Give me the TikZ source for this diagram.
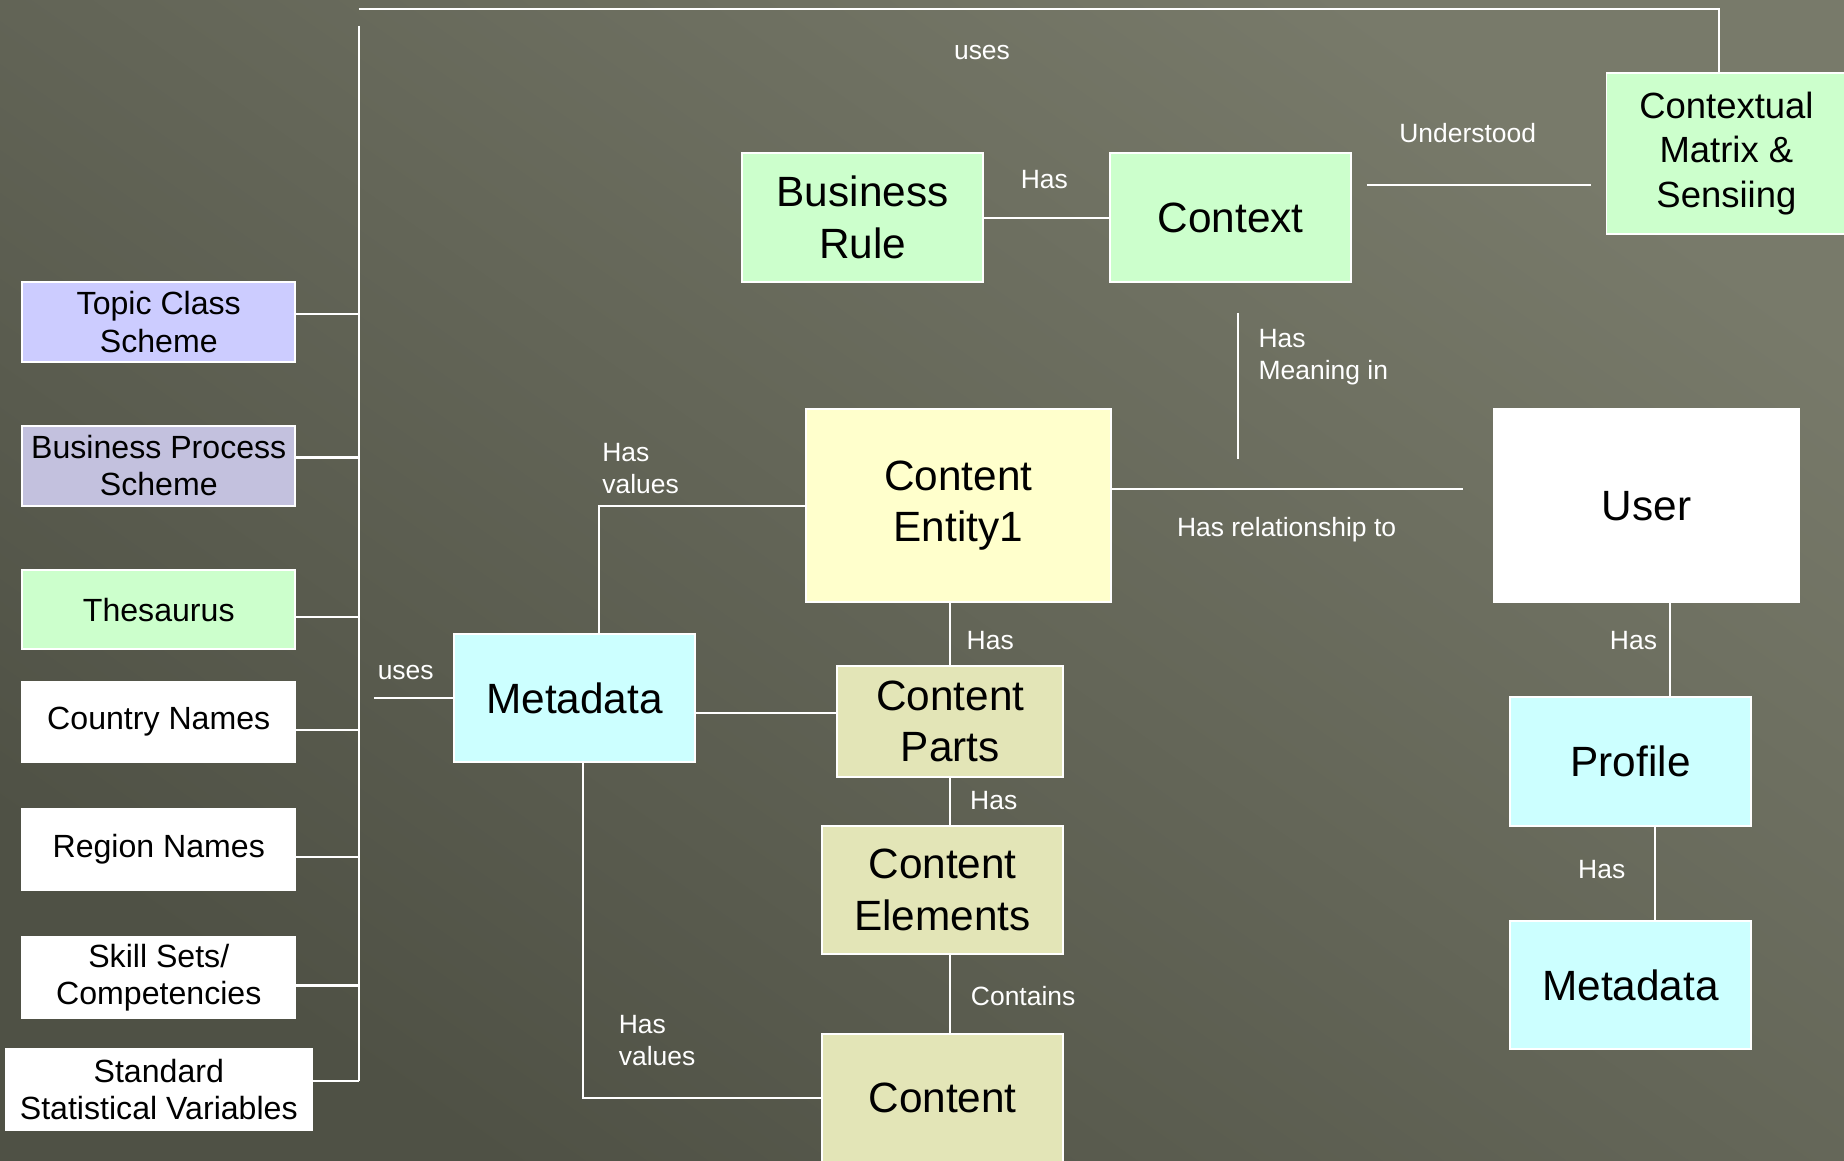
\documentclass[tikz,border=0pt]{standalone}
\usepackage{fontspec}
\setmainfont{Liberation Sans}
\usetikzlibrary{calc}
\definecolor{bgdark}{HTML}{4F5145}
\definecolor{bglight}{HTML}{787A6A}
\definecolor{lavender}{HTML}{CCCCFF}
\definecolor{greylav}{HTML}{C3C1DE}
\definecolor{mint}{HTML}{CCFFCC}
\definecolor{paleblue}{HTML}{CCFFFF}
\definecolor{paleyellow}{HTML}{FFFFCC}
\definecolor{paleolive}{HTML}{E3E5B7}
\begin{document}
\begin{tikzpicture}[x=1pt,y=-1pt,
  box/.style={draw=white, line width=1.6pt, inner sep=0pt, align=center,
    text=black, font=\fontsize{36}{44}\selectfont},
  smallbox/.style={box, font=\fontsize{27.3}{32}\selectfont},
  ctxbox/.style={box, font=\fontsize{31}{38}\selectfont},
  lbl/.style={text=white, inner sep=0pt, align=left,
    font=\fontsize{22.5}{27}\selectfont},
  link/.style={draw=white, line width=1.8pt}
]
% canvas and backdrop
\useasboundingbox (0,0) rectangle (1568,987);
\shade[shading=axis, top color=bglight, bottom color=bgdark, shading angle=-35]
  (0,0) rectangle (1568,987);

% vocabularies on the left
\node[smallbox, fill=lavender, minimum width=232pt, minimum height=68pt] (topic) at (135,274) {Topic Class\\Scheme};
\node[smallbox, fill=greylav, minimum width=232pt, minimum height=68pt] (bproc) at (135,396) {Business Process\\Scheme};
\node[smallbox, fill=mint, minimum width=232pt, minimum height=67pt] (thes) at (135,518.5) {Thesaurus};
\node[smallbox, fill=white, minimum width=232pt, minimum height=68pt] (country) at (135,614) {Country Names};
\node[smallbox, fill=white, minimum width=232pt, minimum height=69pt] (region) at (135,722.5) {Region Names};
\node[smallbox, fill=white, minimum width=232pt, minimum height=69pt] (skill) at (135,831.5) {Skill Sets/\\Competencies};
\node[smallbox, fill=white, minimum width=260pt, minimum height=69pt] (stat) at (135,926.5) {Standard\\Statistical Variables};

% main entities
\node[box, fill=mint, minimum width=205pt, minimum height=110pt] (brule) at (733.5,185) {Business\\Rule};
\node[box, fill=mint, minimum width=205pt, minimum height=110pt] (ctx) at (1046.5,185) {Context};
\node[ctxbox, fill=mint, minimum width=204pt, minimum height=137pt] (cmatrix) at (1468,130.5) {\raisebox{-3pt}{\parbox{200pt}{\centering Contextual\\Matrix \&\\Sensiing}}};
\node[box, fill=paleyellow, minimum width=260pt, minimum height=164pt] (centity) at (815,430) {Content\\Entity1};
\node[box, fill=white, minimum width=260pt, minimum height=164pt] (user) at (1400,430) {User};
\node[box, fill=paleblue, minimum width=205pt, minimum height=109pt] (meta) at (488.5,593.5) {Metadata};
\node[box, fill=paleolive, minimum width=192pt, minimum height=95pt] (cparts) at (808,613.5) {Content\\Parts};
\node[box, fill=paleolive, minimum width=205pt, minimum height=109pt] (celem) at (801.5,756.5) {Content\\Elements};
\node[box, fill=paleolive, minimum width=205pt, minimum height=110pt] (content) at (801.5,934) {Content};
\node[box, fill=paleblue, minimum width=205pt, minimum height=109pt] (profile) at (1386.5,647.5) {Profile};
\node[box, fill=paleblue, minimum width=205pt, minimum height=109pt] (meta2) at (1386.5,837.5) {Metadata};

% routing points
\coordinate (trunkTop) at (305,22);
\coordinate (trunkBot) at (305,919);
\coordinate (topL) at (305,8);
\coordinate (topR) at (1462,8);
\coordinate (t1) at (305,267);
\coordinate (t2) at (305,389);
\coordinate (t3) at (305,525);
\coordinate (t4) at (305,621);
\coordinate (t5) at (305,729);
\coordinate (t6) at (305,838);
\coordinate (usesL) at (318,593.5);
\coordinate (undL) at (1162,157);
\coordinate (undR) at (1353,157);
\coordinate (meanT) at (1053,266);
\coordinate (meanB) at (1053,390);
\coordinate (relR) at (1244,416);
\coordinate (hvUp) at (509,430);
\coordinate (mdcp) at (600,606);
\coordinate (hvLow) at (496,934);
\coordinate (upx) at (1420,0);
\coordinate (pmx) at (1407,0);

% connectors
\draw[link] (topL) -- (topR) -- (cmatrix.north -| topR);
\draw[link] (trunkTop) -- (trunkBot);
\draw[link] (topic.east |- t1) -- (t1);
\draw[link] (bproc.east |- t2) -- (t2);
\draw[link] (thes.east |- t3) -- (t3);
\draw[link] (country.east |- t4) -- (t4);
\draw[link] (region.east |- t5) -- (t5);
\draw[link] (skill.east |- t6) -- (t6);
\draw[link] (stat.east |- trunkBot) -- (trunkBot);
\draw[link] (usesL) -- (meta.west);
\draw[link] (brule) -- (ctx);
\draw[link] (undL) -- (undR);
\draw[link] (meanT) -- (meanB);
\draw[link] (centity.east |- relR) -- (relR);
\draw[link] (meta.north -| hvUp) -- (hvUp) -- (centity.west);
\draw[link] (centity.south -| cparts) -- (cparts.north);
\draw[link] (meta.east |- mdcp) -- (cparts.west |- mdcp);
\draw[link] (cparts.south) -- (cparts.south |- celem.north);
\draw[link] (celem.south -| cparts) -- (content.north -| cparts);
\draw[link] (meta.south -| hvLow) -- (hvLow) -- (content.west);
\draw[link] (user.south -| upx) -- (profile.north -| upx);
\draw[link] (profile.south -| pmx) -- (meta2.north -| pmx);

% relation labels
\node[lbl] (lUsesTop) at (835,45) {uses};
\node[lbl] (lUnder) at (1248,113) {Understood};
\node[lbl] (lHasBR) at (888,153) {Has};
\node[lbl, anchor=west] (lMean) at (1070,303.5) {Has\\Meaning in};
\node[lbl, anchor=west] (lHv1) at (512,398.5) {Has\\values};
\node[lbl] (lRel) at (1094,450) {Has relationship to};
\node[lbl] (lUses) at (345,572) {uses};
\node[lbl] (lHasCE) at (842,545) {Has};
\node[lbl] (lHasCP) at (845,681) {Has};
\node[lbl] (lCont) at (870,847) {Contains};
\node[lbl, anchor=west] (lHv2) at (526,884.5) {Has\\values};
\node[lbl] (lHasU) at (1389,545) {Has};
\node[lbl] (lHasP) at (1362,739) {Has};
\end{tikzpicture}
\end{document}
